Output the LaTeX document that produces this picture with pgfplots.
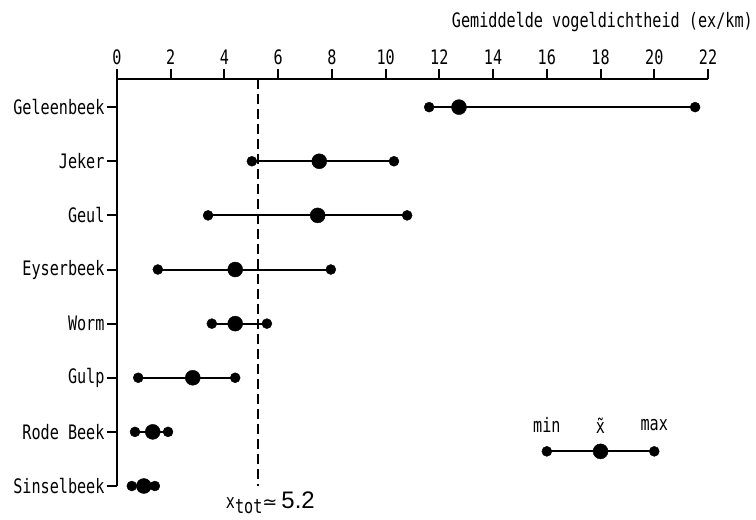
\documentclass[border=0pt]{standalone}
\usepackage{fontspec}
\setmainfont{DejaVu Sans Mono}[FakeStretch=0.76]
\newfontfamily\sansf{Liberation Sans}
\newfontfamily\dejavu{DejaVu Sans}
\usepackage{pgfplots}
\usepackage{pgfplotstable}
\pgfplotsset{compat=1.18}

\pgfplotstableread{
y    min    med    max
8    11.62  12.73  21.52
7    5.02   7.53   10.31
6    3.39   7.47   10.80
5    1.52   4.40   7.96
4    3.53   4.40   5.58
3    0.79   2.82   4.40
2    0.67   1.33   1.90
1    0.55   1.00   1.41
}\rivers
\pgfplotstableread{
y    min  med  max
1.64 16   18   20
}\legendrow

\begin{document}
\begin{tikzpicture}[font=\fontsize{20}{23}\selectfont]
\begin{axis}[
  scale only axis, width=591bp, height=407bp,
  xmin=0, xmax=22, ymin=1, ymax=8.52,
  axis x line=top, axis y line=left,
  axis line style={line width=2bp, -},
  tick style={line width=2bp, black},
  tick align=outside, major tick length=10bp,
  xtick={0,2,...,22}, ytick={1,...,8},
  yticklabels={Sinselbeek,Rode Beek,Gulp,Worm,Eyserbeek,Geul,Jeker,Geleenbeek},
  /pgf/number format/assume math mode=true,
  ticklabel style={font=\fontsize{20}{23}\selectfont},
  xticklabel style={yshift=1bp},
  yticklabel style={xshift=1bp},
  clip=false,
]
\addplot[only marks, mark=*, mark size=7.5bp, black,
  error bars/.cd, x dir=both, x explicit, error mark=none,
  error bar style={line width=2bp, black}]
  table[x=med, y=y, x error plus expr=\thisrow{max}-\thisrow{med},
        x error minus expr=\thisrow{med}-\thisrow{min}] {\rivers};
\addplot[only marks, mark=*, mark size=5bp, black] table[x=min, y=y] {\rivers};
\addplot[only marks, mark=*, mark size=5bp, black] table[x=max, y=y] {\rivers};
\addplot[only marks, mark=*, mark size=7.5bp, black,
  error bars/.cd, x dir=both, x explicit, error mark=none,
  error bar style={line width=2bp, black}]
  table[x=med, y=y, x error plus expr=\thisrow{max}-\thisrow{med},
        x error minus expr=\thisrow{med}-\thisrow{min}] {\legendrow};
\addplot[only marks, mark=*, mark size=5bp, black] table[x=min, y=y] {\legendrow};
\addplot[only marks, mark=*, mark size=5bp, black] table[x=max, y=y] {\legendrow};
\addplot[black, line width=1.5bp, dash pattern=on 10bp off 5bp] coordinates {(5.25,8.52) (5.25,1)};
\draw[line width=2bp] (axis cs:0,8.52) -- ++(0,7bp);
\node at (axis cs:16,2.12) {min};
\node at (axis cs:18,2.12) {\~x};
\node at (axis cs:20,2.12) {max};
\node[anchor=north west, inner sep=0pt] at ([yshift=-6bp]axis cs:4.05,1) {x\raisebox{-4.5bp}{tot}{\dejavu\fontsize{18}{20}\selectfont ≃}{\sansf\fontsize{24}{26}\selectfont\,5.2}};
\node[anchor=east, inner sep=0pt] at ([xshift=45bp,yshift=57bp]rel axis cs:1,1) {Gemiddelde vogeldichtheid (ex/km)};
\end{axis}
\pgfresetboundingbox
\useasboundingbox ([xshift=-117bp,yshift=-34bp]current axis.south west) rectangle ([xshift=48bp,yshift=79bp]current axis.north east);
\end{tikzpicture}
\end{document}
